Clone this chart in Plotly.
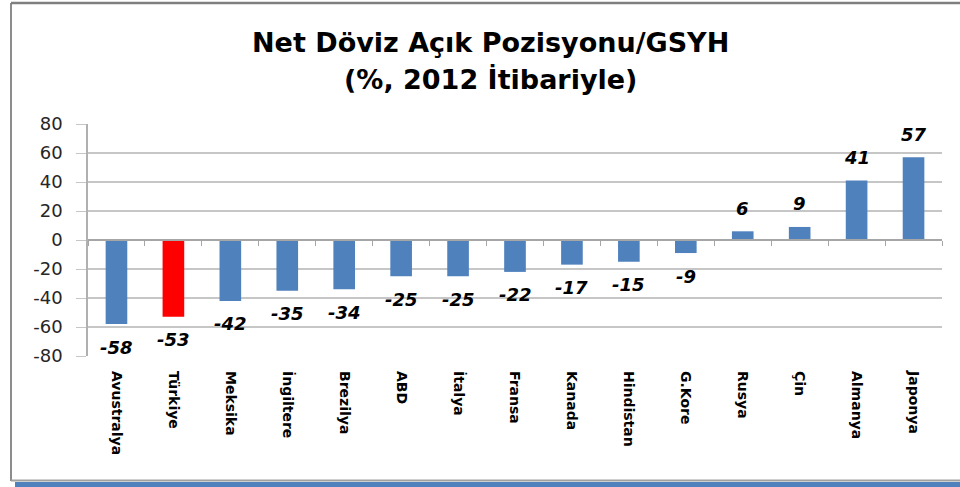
import plotly.graph_objects as go

countries = ["Avustralya", "Türkiye", "Meksika", "İngiltere", "Brezilya", "ABD", "İtalya",
             "Fransa", "Kanada", "Hindistan", "G.Kore", "Rusya", "Çin", "Almanya", "Japonya"]
values = [-58, -53, -42, -35, -34, -25, -25, -22, -17, -15, -9, 6, 9, 41, 57]
highlight = "Türkiye"
y_ticks = [80, 60, 40, 20, 0, -20, -40, -60, -80]
y_tick_text = [str(v) for v in y_ticks]
title_lines = ["Net Döviz Açık Pozisyonu/GSYH", "(%, 2012 İtibariyle)"]

BLUE = "#4F81BD"
RED = "#FF0000"
colors = [RED if c == highlight else BLUE for c in countries]

L, R, T, B = 88, 18, 124, 131
W, H = 960, 487
PW, PH = W - L - R, H - T - B


def px(x):
    return (x - L) / PW


def py(y):
    return (H - B - y) / PH


fig = go.Figure()
fig.add_trace(go.Bar(x=countries, y=values, marker=dict(color=colors, line=dict(width=0)),
                     width=0.38, hoverinfo="x+y"))
fig.add_trace(go.Scatter(x=countries, y=values, xaxis="x2", mode="markers",
                         marker=dict(opacity=0), hoverinfo="skip", showlegend=False))

for c, v in zip(countries, values):
    fig.add_annotation(x=c, y=v, text=str(v), showarrow=False,
                       yshift=23 if v > 0 else -23,
                       font=dict(family="DejaVu Sans", size=18, color="#000000",
                                 weight="bold", style="italic"))

title_font = dict(family="DejaVu Sans", size=27, color="#000000", weight="bold")
for line, ypx in zip(title_lines, [42, 79]):
    fig.add_annotation(text=line, xref="paper", yref="paper", x=px(490), y=py(ypx),
                       xanchor="center", yanchor="middle", showarrow=False, font=title_font)

fig.update_layout(
    width=W, height=H,
    margin=dict(l=L, r=R, t=T, b=B),
    paper_bgcolor="white", plot_bgcolor="white",
    showlegend=False,
    xaxis=dict(type="category", range=[-0.5, len(countries) - 0.5], showgrid=False,
               showline=False, zeroline=False, ticks="", tickangle=90,
               ticklabelstandoff=14,
               tickfont=dict(family="DejaVu Sans", size=14, color="#000000", weight="bold")),
    xaxis2=dict(type="category", overlaying="x", anchor="free", position=0.5,
                range=[-0.5, len(countries) - 0.5], showgrid=False, showline=True,
                linecolor="#a6a6a6", linewidth=1.5, ticks="outside", tickson="boundaries",
                ticklen=5, tickcolor="#a6a6a6", showticklabels=False, zeroline=False),
    yaxis=dict(range=[-80, 80], tickvals=y_ticks, ticktext=y_tick_text, showgrid=True,
               gridcolor="#c6c6c6", gridwidth=1.5, showline=True, linecolor="#b0b0b0",
               linewidth=1.5, ticks="outside", ticklen=10, tickcolor="#c6c6c6",
               zeroline=False, ticklabelstandoff=10,
               tickfont=dict(family="DejaVu Sans", size=18, color="#262626")),
    bargap=0.62,
)

# outer frame and bottom blue rule
fig.add_shape(type="line", xref="paper", yref="paper", x0=px(11), x1=px(11), y0=py(3), y1=py(481),
              line=dict(color="#8c8c8c", width=2), layer="above")
fig.add_shape(type="line", xref="paper", yref="paper", x0=px(11), x1=px(962), y0=py(3), y1=py(3),
              line=dict(color="#7f7f7f", width=2.5), layer="above")
fig.add_shape(type="line", xref="paper", yref="paper", x0=px(11), x1=px(962), y0=py(480.5), y1=py(480.5),
              line=dict(color="#a0a0a0", width=2), layer="above")
fig.add_shape(type="rect", xref="paper", yref="paper", x0=px(15), x1=px(962), y0=py(482), y1=py(488),
              fillcolor=BLUE, line=dict(width=0), layer="above")

fig.write_html("out.html", config={"displayModeBar": False},
               post_script="document.body.style.margin='0';document.body.style.overflow='hidden';")
